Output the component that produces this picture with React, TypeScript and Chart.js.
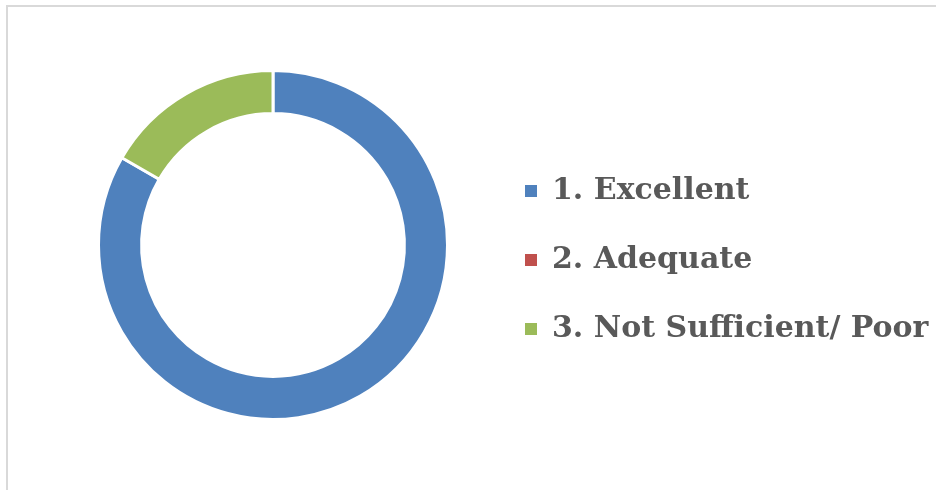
import React, { useEffect, useRef } from 'react';
import { Chart, registerables } from 'chart.js';

Chart.register(...registerables);

const categories = ['1. Excellent', '2. Adequate', '3. Not Sufficient/ Poor'];
const values = [5, 0, 1];
const colors = ['#4F81BD', '#C0504D', '#9BBB59'];

const CANVAS_W = 996;
const CANVAS_H = 496;

export default function App() {
  const ref = useRef<HTMLCanvasElement>(null);

  useEffect(() => {
    const canvas = ref.current!;
    const fontSize = 30;
    const family = "'DejaVu Serif', serif";
    const mctx = canvas.getContext('2d')!;
    mctx.font = `bold ${fontSize}px ${family}`;
    const tw = Math.max(...categories.map((c) => mctx.measureText(c).width));
    const boxW = 12;
    const labelPad = 39;
    const legendW = labelPad + boxW + fontSize / 2 + tw + 10;
    const legendLeft = 478;
    const centerX = 265;
    const padLeft = 2 * centerX - legendLeft;
    const padRight = CANVAS_W - legendLeft - legendW;
    const areaH = 352;
    const padTop = 62;

    const chart = new Chart(canvas, {
      type: 'doughnut',
      data: {
        labels: categories,
        datasets: [
          {
            data: values,
            backgroundColor: colors,
            borderColor: '#ffffff',
            borderWidth: 3,
            hoverOffset: 0,
          },
        ],
      },
      options: {
        responsive: false,
        animation: false,
        cutout: '75.3%',
        layout: {
          padding: { top: padTop, bottom: CANVAS_H - padTop - areaH, left: padLeft, right: padRight },
        },
        plugins: {
          tooltip: { enabled: false },
          legend: {
            position: 'right',
            align: 'center',
            maxWidth: 800,
            title: {
              display: true,
              text: ' ',
              font: { size: 10, lineHeight: 1 },
              padding: { top: 10, bottom: 10 },
            },
            labels: {
              boxWidth: boxW,
              boxHeight: boxW,
              padding: labelPad,
              color: '#595959',
              font: { family, size: fontSize, weight: 'bold' },
              generateLabels: () =>
                categories.map((c, i) => ({
                  text: c,
                  fillStyle: colors[i],
                  strokeStyle: colors[i],
                  lineWidth: 0,
                  hidden: false,
                  index: i,
                  fontColor: '#595959',
                })),
            },
          },
        },
      },
    });
    return () => chart.destroy();
  }, []);

  return (
    <div
      style={{
        position: 'fixed',
        left: 6,
        top: 5,
        width: CANVAS_W + 4,
        height: CANVAS_H + 4,
        border: '2px solid #d9d9d9',
        boxSizing: 'border-box',
        background: '#ffffff',
      }}
    >
      <canvas ref={ref} width={CANVAS_W} height={CANVAS_H} style={{ display: 'block' }} />
    </div>
  );
}
